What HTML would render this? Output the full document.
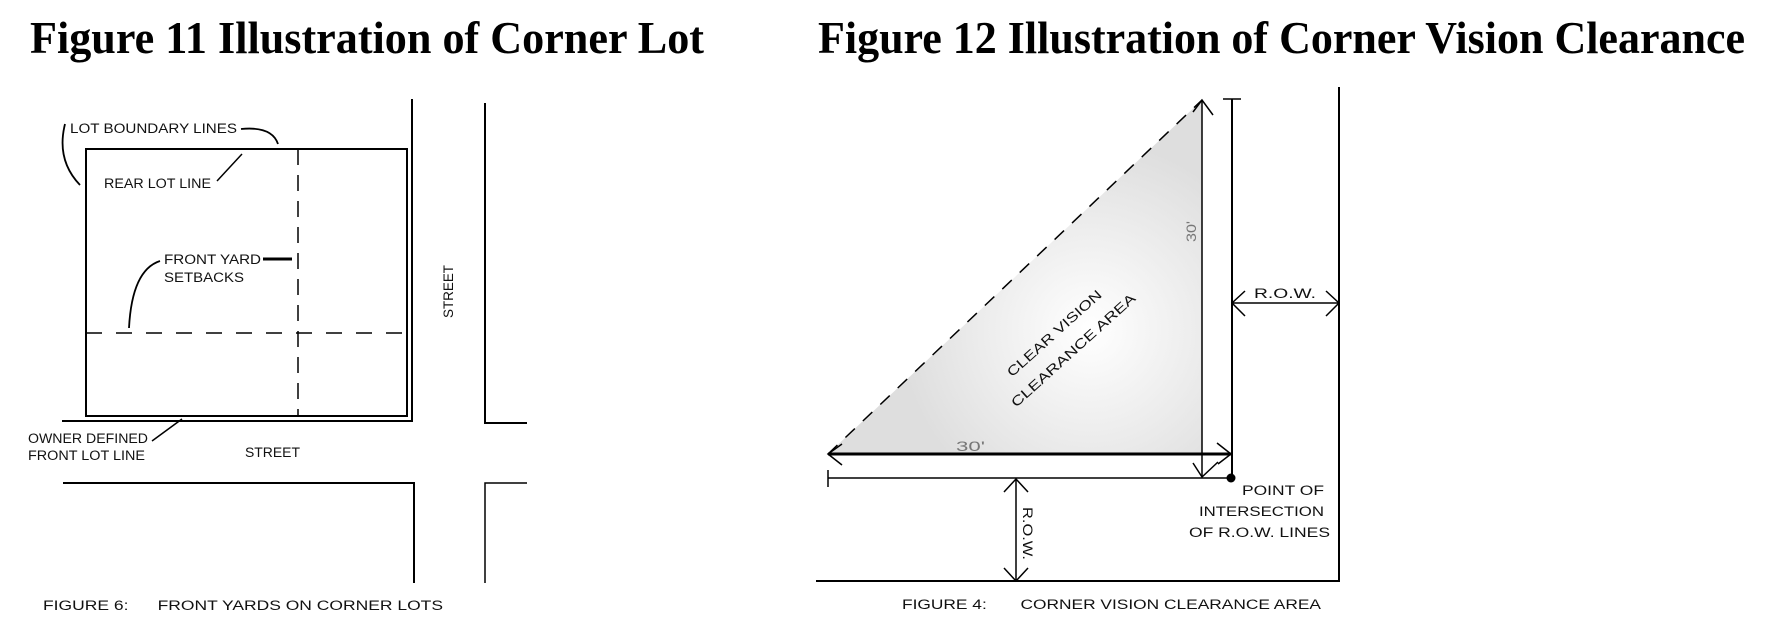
<!DOCTYPE html>
<html><head><meta charset="utf-8"><style>
html,body{margin:0;padding:0;background:#fff;}
svg{display:block;}
.t{font-family:"Liberation Sans",sans-serif;font-size:13.5px;fill:#111;}
.g{font-family:"Liberation Sans",sans-serif;font-size:14px;fill:#777;}
</style></head><body>
<svg width="1768" height="639" viewBox="0 0 1768 639" xmlns="http://www.w3.org/2000/svg">
<defs>
<radialGradient id="rg" cx="1090" cy="330" r="190" gradientUnits="userSpaceOnUse">
<stop offset="0" stop-color="#ffffff"/><stop offset="1" stop-color="#dedede"/>
</radialGradient>
</defs>
<text x="30" y="53" font-family="Liberation Serif,serif" font-weight="bold" font-size="46" textLength="674" lengthAdjust="spacingAndGlyphs">Figure 11 Illustration of Corner Lot</text>
<text x="818" y="53" font-family="Liberation Serif,serif" font-weight="bold" font-size="46" textLength="927" lengthAdjust="spacingAndGlyphs">Figure 12 Illustration of Corner Vision Clearance</text>

<!-- LEFT -->
<g fill="none" stroke="#000">
<rect x="86" y="149" width="321" height="267" stroke-width="2"/>
<polyline points="62,421 412,421 412,99" stroke-width="2"/>
<polyline points="485,103 485,423 527,423" stroke-width="2"/>
<polyline points="63,483 414,483 414,583" stroke-width="2"/>
<polyline points="527,483 485,483 485,583" stroke-width="1.5"/>
<line x1="298" y1="149" x2="298" y2="416" stroke-width="1.5" stroke-dasharray="16,10"/>
<line x1="86" y1="333" x2="407" y2="333" stroke-width="1.5" stroke-dasharray="16,14"/>
<path d="M65,124 Q56,160 80,185" stroke-width="1.8"/>
<path d="M241,129 Q272,126 278,144" stroke-width="1.8"/>
<line x1="242" y1="154" x2="217" y2="181" stroke-width="1.5"/>
<line x1="263" y1="259" x2="292" y2="259" stroke-width="3"/>
<path d="M160,261 Q132,270 129,328" stroke-width="1.8"/>
<line x1="152" y1="441" x2="182" y2="419" stroke-width="1.5"/>
</g>
<text class="t" x="70" y="133" textLength="167" lengthAdjust="spacingAndGlyphs">LOT BOUNDARY LINES</text>
<text class="t" x="104" y="188" textLength="107" lengthAdjust="spacingAndGlyphs">REAR LOT LINE</text>
<text class="t" x="164" y="264" textLength="97" lengthAdjust="spacingAndGlyphs">FRONT YARD</text>
<text class="t" x="164" y="282" textLength="80" lengthAdjust="spacingAndGlyphs">SETBACKS</text>
<text class="t" transform="translate(453,318) rotate(-90)" x="0" y="0" textLength="53" lengthAdjust="spacingAndGlyphs">STREET</text>
<text class="t" x="28" y="443" textLength="120" lengthAdjust="spacingAndGlyphs">OWNER DEFINED</text>
<text class="t" x="28" y="460" textLength="117" lengthAdjust="spacingAndGlyphs">FRONT LOT LINE</text>
<text class="t" x="245" y="457" textLength="55" lengthAdjust="spacingAndGlyphs">STREET</text>
<text class="t" x="43" y="610" textLength="400" lengthAdjust="spacingAndGlyphs">FIGURE 6:&#160;&#160;&#160;&#160;&#160;&#160;FRONT YARDS ON CORNER LOTS</text>

<!-- RIGHT -->
<polygon points="828,454 1202,100 1202,454" fill="url(#rg)"/>
<g fill="none" stroke="#000">
<line x1="828" y1="454" x2="1202" y2="100" stroke-width="1.5" stroke-dasharray="13,11"/>
<line x1="1202" y1="100" x2="1202" y2="477" stroke-width="1.5"/>
<polyline points="1193,112 1202,100 1213,115" stroke-width="1.5"/>
<polyline points="1193,463 1202,477 1218,462" stroke-width="1.5"/>
<line x1="828" y1="454" x2="1231" y2="454" stroke-width="3"/>
<polyline points="842,444 828,454 842,465" stroke-width="1.5"/>
<polyline points="1217,443 1231,454 1218,464" stroke-width="1.5"/>
<line x1="1232" y1="99" x2="1232" y2="478" stroke-width="2"/>
<line x1="1223" y1="99" x2="1241" y2="99" stroke-width="1.5"/>
<polyline points="1339,87 1339,581 816,581" stroke-width="2"/>
<line x1="828" y1="478" x2="1231" y2="478" stroke-width="1.5"/>
<line x1="828" y1="470" x2="828" y2="487" stroke-width="1.5"/>
<line x1="1232" y1="303" x2="1339" y2="303" stroke-width="1.5"/>
<polyline points="1245,291 1232,303 1245,316" stroke-width="1.5"/>
<polyline points="1326,291 1339,303 1326,316" stroke-width="1.5"/>
<line x1="1016" y1="479" x2="1016" y2="581" stroke-width="1.5"/>
<polyline points="1004,492 1016,479 1028,492" stroke-width="1.5"/>
<polyline points="1004,568 1016,581 1028,568" stroke-width="1.5"/>
</g>
<circle cx="1231" cy="478" r="4.5" fill="#000"/>
<text class="t" x="1254" y="298" textLength="62" lengthAdjust="spacingAndGlyphs">R.O.W.</text>
<text class="t" transform="translate(1023,507) rotate(90)" x="0" y="0" textLength="53" lengthAdjust="spacingAndGlyphs">R.O.W.</text>
<text class="g" transform="translate(1196,242) rotate(-90)" x="0" y="0" textLength="21" lengthAdjust="spacingAndGlyphs">30'</text>
<text class="g" x="956" y="451" textLength="29" lengthAdjust="spacingAndGlyphs">30'</text>
<g transform="translate(1054,333) rotate(-42)"><text class="t" x="0" y="5" text-anchor="middle" font-size="15" textLength="122" lengthAdjust="spacingAndGlyphs">CLEAR VISION</text></g>
<g transform="translate(1073,350) rotate(-42)"><text class="t" x="0" y="5" text-anchor="middle" font-size="15" textLength="162" lengthAdjust="spacingAndGlyphs">CLEARANCE AREA</text></g>
<text class="t" x="1242" y="495" textLength="82" lengthAdjust="spacingAndGlyphs">POINT OF</text>
<text class="t" x="1199" y="516" textLength="125" lengthAdjust="spacingAndGlyphs">INTERSECTION</text>
<text class="t" x="1189" y="537" textLength="141" lengthAdjust="spacingAndGlyphs">OF R.O.W. LINES</text>
<text class="t" x="902" y="609" textLength="419" lengthAdjust="spacingAndGlyphs">FIGURE 4:&#160;&#160;&#160;&#160;&#160;&#160;&#160;CORNER VISION CLEARANCE AREA</text>
</svg>
</body></html>
